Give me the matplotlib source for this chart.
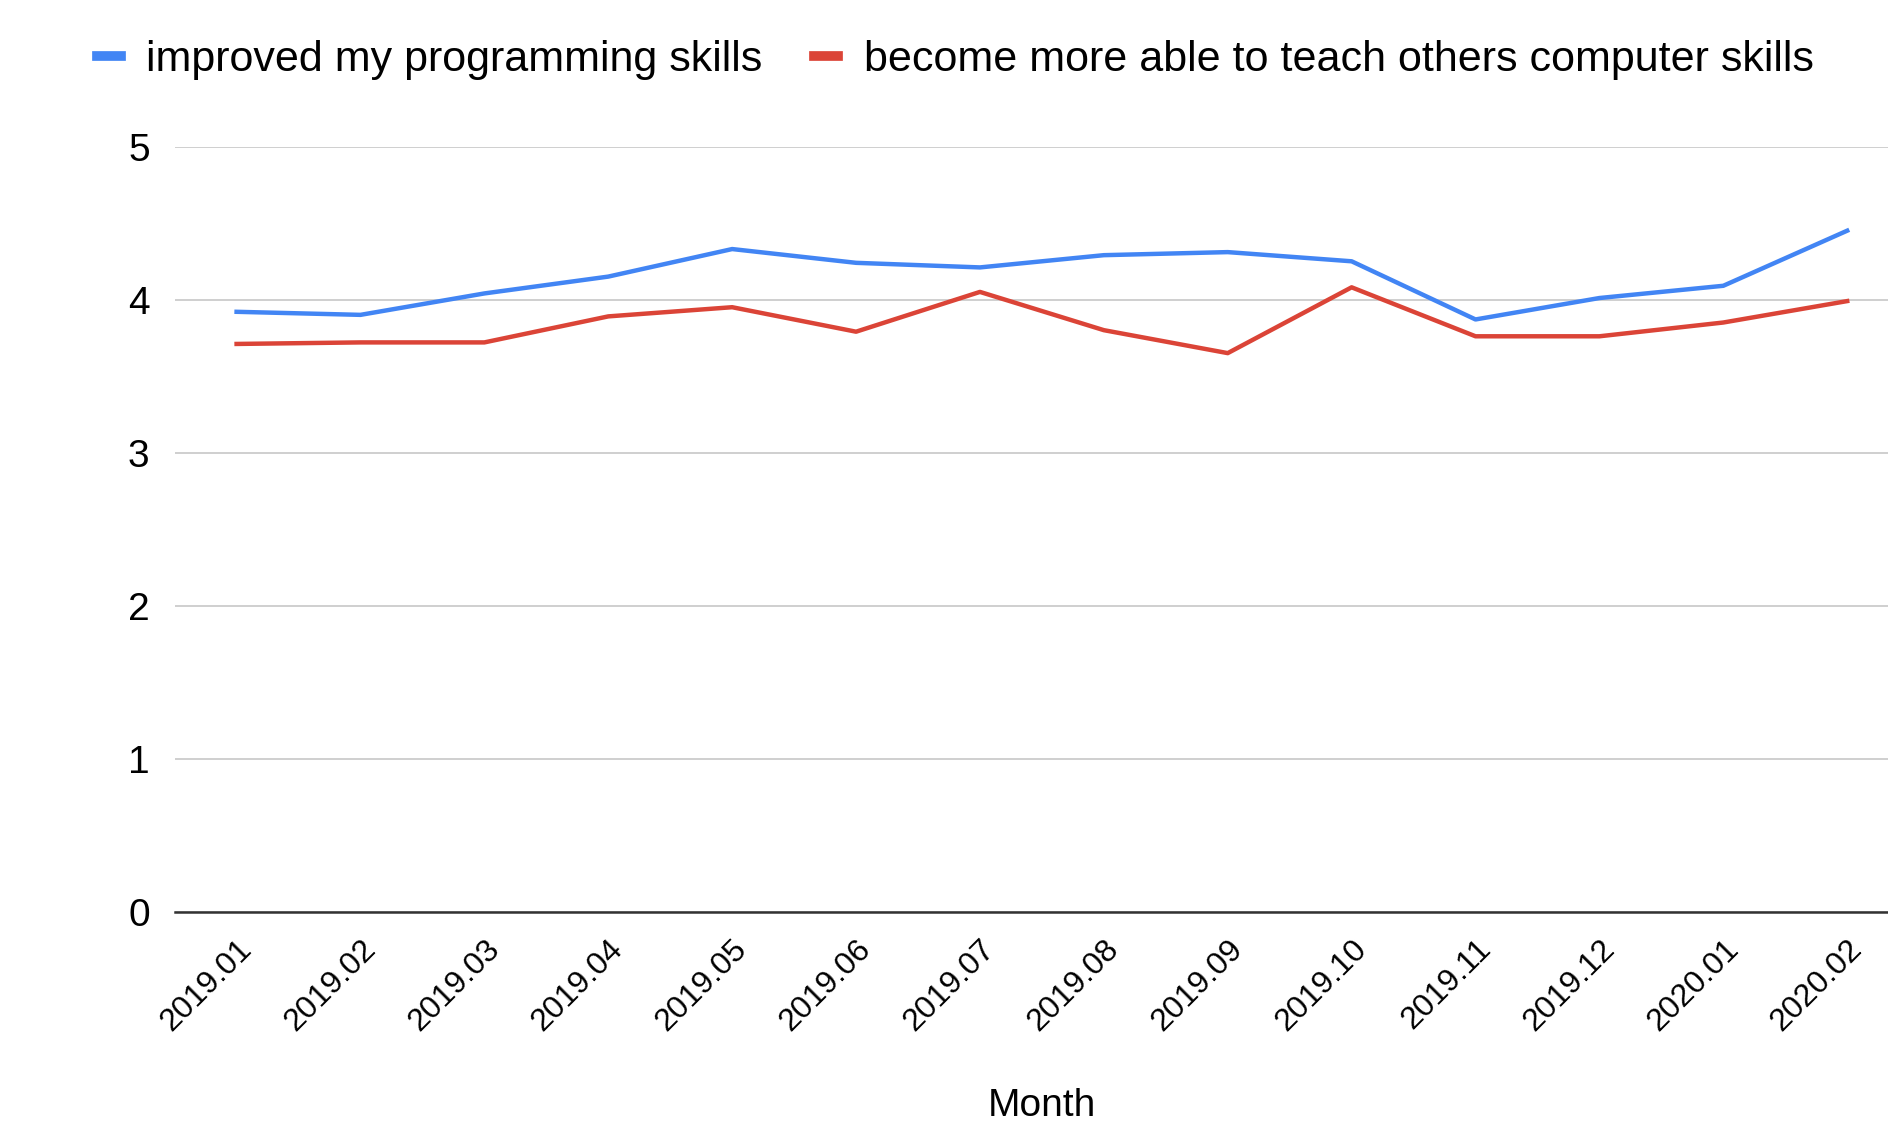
import numpy as np
import matplotlib.pyplot as plt
from matplotlib.lines import Line2D

plt.rcParams['font.family'] = ['Liberation Sans', 'DejaVu Sans']

# Données
mois = ['2019.01', '2019.02', '2019.03', '2019.04', '2019.05', '2019.06', '2019.07',
        '2019.08', '2019.09', '2019.10', '2019.11', '2019.12', '2020.01', '2020.02']
programmation = [3.92, 3.90, 4.04, 4.15, 4.33, 4.24, 4.21,
                 4.29, 4.31, 4.25, 3.87, 4.01, 4.09, 4.45]
enseignement = [3.71, 3.72, 3.72, 3.89, 3.95, 3.79, 4.05,
                3.80, 3.65, 4.08, 3.76, 3.76, 3.85, 3.99]
noms = ['improved my programming skills',
        'become more able to teach others computer skills']

bleu = '#4285F4'
rouge = '#DB4437'

fig = plt.figure(figsize=(18.88, 11.27), dpi=100)
# l'axe dépasse légèrement à droite, comme sur l'original
ax = fig.add_axes([0.0925, 0.191, 0.9187, 0.679])

x = np.arange(len(mois))
ax.plot(x, programmation, color=bleu, lw=3.2)
ax.plot(x, enseignement, color=rouge, lw=3.2)

ax.set_xlim(-0.5, 13.5)
ax.set_ylim(0, 5)
ax.set_yticks([0, 1, 2, 3, 4, 5])
ax.grid(axis='y', color='#cccccc', lw=1.3)
ax.set_axisbelow(True)

for s in ['top', 'right', 'left']:
    ax.spines[s].set_visible(False)
ax.spines['bottom'].set_color('#333333')
ax.spines['bottom'].set_linewidth(1.8)

ax.set_xticks(x)
ax.set_xticklabels(mois, rotation=45, ha='right', va='top', rotation_mode='anchor')
ax.tick_params(axis='both', length=0)
ax.tick_params(axis='y', labelsize=28, pad=18)
ax.tick_params(axis='x', labelsize=23, pad=16)

ax.set_xlabel('Month', fontsize=28, labelpad=37)

poignees = [Line2D([0], [0], color=bleu, lw=7), Line2D([0], [0], color=rouge, lw=7)]
fig.legend(poignees, noms, loc='center', bbox_to_anchor=(0.506, 0.947), ncol=2,
           frameon=False, fontsize=31, handlelength=0.55, handletextpad=0.6,
           columnspacing=1.2)

fig.savefig('out.png', dpi=100)
